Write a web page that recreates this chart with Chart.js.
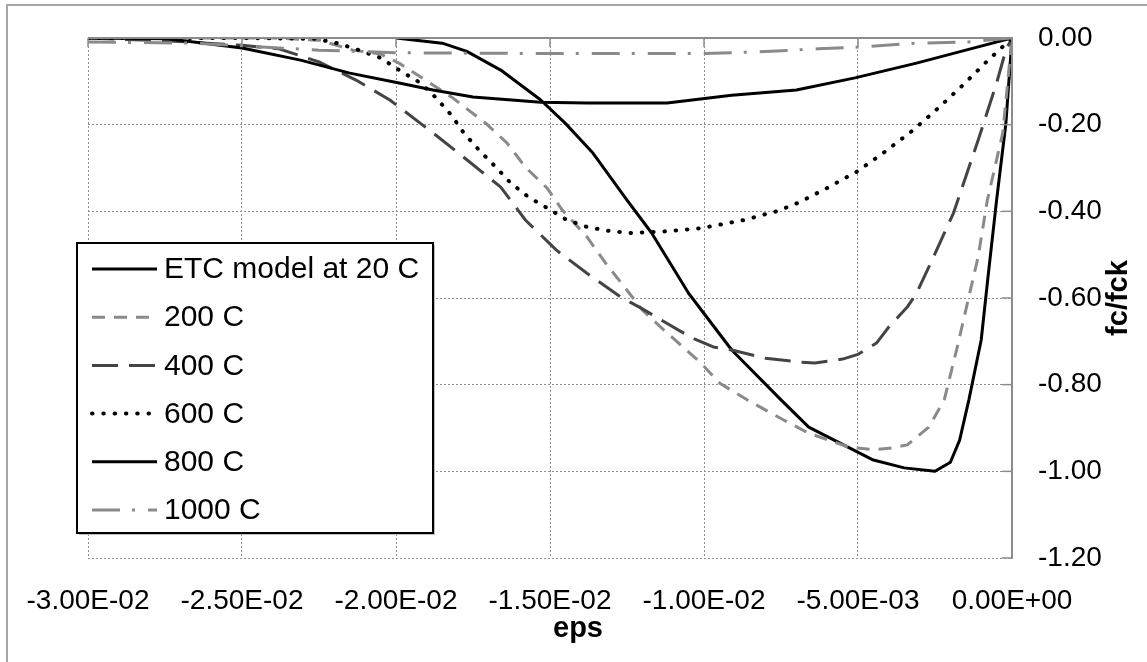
<!DOCTYPE html>
<html><head><meta charset="utf-8">
<script src="https://cdn.jsdelivr.net/npm/chart.js@4.4.1/dist/chart.umd.min.js"></script>
<style>
html,body{margin:0;padding:0;background:#fff;overflow:hidden}
#wrap{position:relative;width:1147px;height:662px}
#frame{position:absolute;left:6px;top:4px;width:1160px;height:680px;border:2px solid #a6a6a6;box-sizing:border-box}
canvas{position:absolute;left:0;top:0}
</style></head><body>
<div id="wrap"><div id="frame"></div><canvas id="c" width="1147" height="662"></canvas></div>
<script>
// ---- data ----
const seriesNames = ["ETC model at 20 C","200 C","400 C","600 C","800 C","1000 C"];
const xTickValues = [-0.03,-0.025,-0.02,-0.015,-0.01,-0.005,0];
const yTickValues = [0,-0.2,-0.4,-0.6,-0.8,-1.0,-1.2];

const eps20 = [-0.0200,-0.0185,-0.0177,-0.0166,-0.0153,-0.0145,-0.0136,-0.0125,-0.0117,-0.0105,-0.0091,-0.0075,-0.0066,-0.0045,-0.0035,-0.0025,-0.0020,-0.0017,-0.0014,-0.0010,-0.0008,-0.0005,-0.0002,0];
const fc20  = [0,-0.012,-0.031,-0.074,-0.143,-0.197,-0.266,-0.374,-0.450,-0.589,-0.720,-0.835,-0.898,-0.974,-0.992,-1.000,-0.979,-0.928,-0.835,-0.697,-0.565,-0.374,-0.198,0];

const eps200 = [-0.0300,-0.0240,-0.0225,-0.0214,-0.0205,-0.0199,-0.0192,-0.0182,-0.0171,-0.0164,-0.0158,-0.0151,-0.0146,-0.0138,-0.0132,-0.0125,-0.0120,-0.0113,-0.0101,-0.0095,-0.0086,-0.0074,-0.0066,-0.0053,-0.0045,-0.0039,-0.0034,-0.0027,-0.0022,-0.0018,-0.0015,-0.0011,-0.0008,-0.0003,0];
const fc200  = [0,0,-0.005,-0.028,-0.037,-0.058,-0.090,-0.136,-0.196,-0.242,-0.298,-0.346,-0.397,-0.459,-0.519,-0.582,-0.628,-0.674,-0.750,-0.796,-0.835,-0.882,-0.912,-0.944,-0.950,-0.946,-0.939,-0.898,-0.835,-0.720,-0.628,-0.505,-0.374,-0.219,0];

const eps400 = [-0.0300,-0.0270,-0.0250,-0.0238,-0.0225,-0.0213,-0.0202,-0.0188,-0.0177,-0.0166,-0.0158,-0.0148,-0.0138,-0.0127,-0.0121,-0.0104,-0.0097,-0.0091,-0.0080,-0.0069,-0.0064,-0.0055,-0.0050,-0.0044,-0.0040,-0.0034,-0.0031,-0.0026,-0.0019,-0.0011,-0.0005,-0.0002,0];
const fc400  = [0,-0.008,-0.017,-0.025,-0.055,-0.097,-0.143,-0.219,-0.281,-0.344,-0.420,-0.489,-0.543,-0.598,-0.621,-0.692,-0.713,-0.720,-0.739,-0.748,-0.750,-0.741,-0.730,-0.704,-0.667,-0.621,-0.589,-0.513,-0.404,-0.236,-0.104,-0.028,0];

const eps600 = [-0.0300,-0.0250,-0.0226,-0.0219,-0.0212,-0.0205,-0.0199,-0.0192,-0.0187,-0.0182,-0.0178,-0.0173,-0.0168,-0.0163,-0.0157,-0.0151,-0.0145,-0.0138,-0.0131,-0.0124,-0.0112,-0.0101,-0.0087,-0.0076,-0.0069,-0.0060,-0.0050,-0.0041,-0.0032,-0.0024,-0.0016,-0.0008,0];
const fc600  = [0,0,-0.002,-0.012,-0.028,-0.046,-0.074,-0.104,-0.138,-0.178,-0.219,-0.259,-0.295,-0.333,-0.367,-0.392,-0.418,-0.436,-0.445,-0.450,-0.446,-0.439,-0.420,-0.399,-0.379,-0.346,-0.307,-0.261,-0.212,-0.162,-0.109,-0.053,0];

const eps800 = [-0.0300,-0.0274,-0.0250,-0.0231,-0.0215,-0.0199,-0.0188,-0.0175,-0.0153,-0.0138,-0.0112,-0.0091,-0.0070,-0.0051,-0.0031,-0.0015,0];
const fc800  = [0,-0.002,-0.023,-0.051,-0.081,-0.104,-0.120,-0.136,-0.148,-0.150,-0.150,-0.132,-0.120,-0.092,-0.058,-0.028,0];

const eps1000 = [-0.0300,-0.0265,-0.0245,-0.0225,-0.0200,-0.0150,-0.0100,-0.0082,-0.0063,-0.0050,-0.0031,-0.0014,0];
const fc1000  = [-0.009,-0.012,-0.020,-0.028,-0.034,-0.036,-0.036,-0.032,-0.025,-0.021,-0.012,-0.009,0];

function pts(xs, ys){ return xs.map((x,i)=>({x:x, y:ys[i]})); }

const styles = [
  {color:'#000000', width:3, dash:[], cap:'butt'},
  {color:'#8a8a8a', width:3, dash:[13,9], cap:'butt'},
  {color:'#444444', width:3, dash:[26,11], cap:'butt'},
  {color:'#000000', width:4, dash:[0.5,10.8], cap:'round'},
  {color:'#000000', width:3, dash:[], cap:'butt'},
  {color:'#8a8a8a', width:3, dash:[28,12,3,13], cap:'butt'}
];
const seriesData = [pts(eps20,fc20),pts(eps200,fc200),pts(eps400,fc400),pts(eps600,fc600),pts(eps800,fc800),pts(eps1000,fc1000)];

const datasets = seriesData.map((d,i)=>({
  label: seriesNames[i], data: d,
  borderColor: styles[i].color, borderWidth: styles[i].width,
  borderDash: styles[i].dash, borderCapStyle: styles[i].cap, borderJoinStyle:'round',
  pointRadius:0, fill:false, tension:0, order: 6-i
}));

function fmtExp(v){
  if (Math.abs(v) < 1e-12) return '0.00E+00';
  let s = v.toExponential(2).toUpperCase();
  const m = s.match(/^(-?[\d.]+)E([+-])(\d+)$/);
  return m[1] + 'E' + m[2] + (m[3].length<2 ? '0'+m[3] : m[3]);
}

const FONT = '"Liberation Sans", Arial, sans-serif';

const extras = {
  id:'extras',
  afterDatasetsDraw(chart){
    const ctx = chart.ctx, ca = chart.chartArea;
    const xs = chart.scales.x, ys = chart.scales.y;
    ctx.save();
    // axis lines: horizontal axis crosses at y=0 (top), vertical axis at x=0 (right)
    ctx.strokeStyle = '#8c8c8c'; ctx.lineWidth = 2; ctx.setLineDash([]);
    const y0 = ys.getPixelForValue(0), x0 = xs.getPixelForValue(0);
    ctx.beginPath(); ctx.moveTo(ca.left, y0); ctx.lineTo(ca.right+1, y0); ctx.stroke();
    ctx.beginPath(); ctx.moveTo(x0, ca.top-1); ctx.lineTo(x0, ca.bottom+1); ctx.stroke();
    // inside tick marks
    ctx.lineWidth = 1.5;
    xTickValues.forEach(v=>{ const p = xs.getPixelForValue(v); ctx.beginPath(); ctx.moveTo(p, y0); ctx.lineTo(p, y0+9); ctx.stroke(); });
    yTickValues.forEach(v=>{ const p = ys.getPixelForValue(v); ctx.beginPath(); ctx.moveTo(x0-10, p); ctx.lineTo(x0, p); ctx.stroke(); });

    // legend box
    const lx = 77, ly = 243, lw = 356, lh = 290;
    ctx.fillStyle = '#bdbdbd'; ctx.fillRect(lx+2, ly+2, lw, lh);
    ctx.fillStyle = '#ffffff'; ctx.fillRect(lx, ly, lw, lh);
    ctx.strokeStyle = '#000'; ctx.lineWidth = 2; ctx.strokeRect(lx, ly, lw, lh);
    ctx.font = '30px ' + FONT; ctx.textBaseline = 'middle'; ctx.textAlign = 'left'; ctx.fillStyle = '#000';
    chart.data.datasets.forEach((ds,i)=>{
      const cy = 269 + i*48.2;
      ctx.save();
      ctx.strokeStyle = ds.borderColor; ctx.lineWidth = ds.borderWidth;
      ctx.setLineDash(ds.borderDash); ctx.lineCap = ds.borderCapStyle;
      ctx.beginPath(); ctx.moveTo(92, cy); ctx.lineTo(157, cy); ctx.stroke();
      ctx.restore();
      ctx.fillText(ds.label, 164, cy + 1);
    });

    // axis titles
    ctx.font = 'bold 29px ' + FONT; ctx.fillStyle = '#000';
    ctx.textAlign = 'center'; ctx.textBaseline = 'alphabetic';
    ctx.fillText('eps', 578, 637);
    ctx.save();
    ctx.translate(1127, (ca.top+ca.bottom)/2);
    ctx.rotate(-Math.PI/2);
    ctx.fillText('fc/fck', 0, 0);
    ctx.restore();
    ctx.restore();
  }
};

new Chart(document.getElementById('c'), {
  type:'line',
  data:{ datasets },
  options:{
    responsive:false, animation:false, parsing:true,
    layout:{ padding:{ left:88, top:38, right:0, bottom:0 } },
    plugins:{ legend:{display:false}, tooltip:{enabled:false}, title:{display:false} },
    scales:{
      x:{ type:'linear', position:'bottom', min:-0.03, max:0,
          afterFit(s){ s.height = 104; },
          afterBuildTicks(s){ s.ticks = xTickValues.map(v=>({value:v})); },
          ticks:{ callback:(v)=>fmtExp(v), font:{family:FONT, size:28}, color:'#000', padding:26.4, maxRotation:0, autoSkip:false },
          grid:{ color:'#8f8f8f', lineWidth:1, drawTicks:false },
          border:{ display:false, dash:[2,2] } },
      y:{ type:'linear', position:'right', min:-1.2, max:0,
          afterFit(s){ s.width = 135; },
          afterBuildTicks(s){ s.ticks = yTickValues.map(v=>({value:v})); },
          ticks:{ callback:(v)=>v.toFixed(2), font:{family:FONT, size:28, lineHeight:0.8}, color:'#000', padding:26 },
          grid:{ color:'#8f8f8f', lineWidth:1, drawTicks:false },
          border:{ display:false, dash:[2,2] } }
    }
  },
  plugins:[extras]
});
</script>
</body></html>
